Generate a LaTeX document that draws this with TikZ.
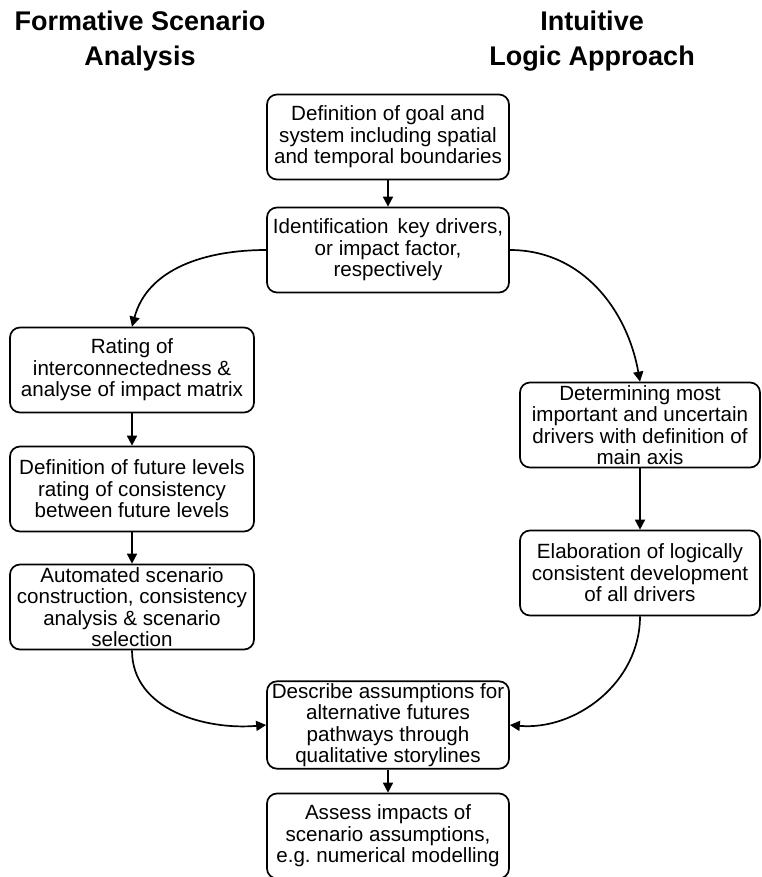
\documentclass[tikz,border=0pt]{standalone}
\usepackage{fontspec}
\setmainfont{Liberation Sans}
\usetikzlibrary{arrows.meta,positioning}

\begin{document}
\begin{tikzpicture}[
  x=0.5pt, y=-0.5pt,
  >={Triangle[length=5pt,width=5pt]},
  font=\fontsize{10.3}{10.7}\selectfont,
  stage/.style={rounded corners=5pt, draw=black, line width=0.85pt, align=center, inner sep=1pt, minimum height=42.5pt},
  wideL/.style={stage, minimum width=122pt},
  wideR/.style={stage, minimum width=120pt},
  wideM/.style={stage, minimum width=121pt},
  head/.style={font=\fontsize{13.5}{17.5}\selectfont\bfseries, align=center},
  flow/.style={->, line width=0.85pt, black},
]
  \useasboundingbox (0,0) rectangle (761,877);
  % column headings
  \node[head] (fsa) at (140,41) {Formative Scenario\\Analysis};
  \node[head] (ila) at (592,41) {Intuitive\\Logic Approach};
  % common trunk
  \node[wideM] (goal) at (388,137) {Definition of goal and\\system including spatial\\and temporal boundaries};
  \node[wideM] (drivers) at (388,250) {Identification\, key drivers,\\or impact factor,\\respectively};
  % formative branch
  \node[wideL] (rating) at (132,370) {Rating of\\interconnectedness \&\\analyse of impact matrix};
  \node[wideL] (levels) at (132,489) {Definition of future levels\\rating of consistency\\between future levels};
  \node[wideL] (auto) at (132,607) {Automated scenario\\construction, consistency\\analysis \& scenario\\selection};
  % intuitive branch
  \node[wideR] (axis) at (640,425) {Determining most\\important and uncertain\\drivers with definition of\\main axis};
  \node[wideR] (elab) at (640,573) {Elaboration of logically\\consistent development\\of all drivers};
  % joint end
  \node[wideM] (story) at (388,725) {Describe assumptions for\\alternative futures\\pathways through\\qualitative storylines};
  \node[wideM] (assess) at (388,836) {Assess impacts of\\scenario assumptions,\\e.g.\ numerical modelling};

  \draw[flow] (goal) -- (drivers);
  \draw[flow] (drivers.west) to[out=180, in=75] (rating.north);
  \draw[flow] (drivers.east) to[out=0, in=100] (axis.north);
  \draw[flow] (rating) -- (levels);
  \draw[flow] (levels) -- (auto);
  \draw[flow] (axis) -- (elab);
  \draw[flow] (auto.south) to[out=270, in=185] (story.west);
  \draw[flow] (elab.south) to[out=270, in=-5] (story.east);
  \draw[flow] (story) -- (assess);
\end{tikzpicture}
\end{document}
